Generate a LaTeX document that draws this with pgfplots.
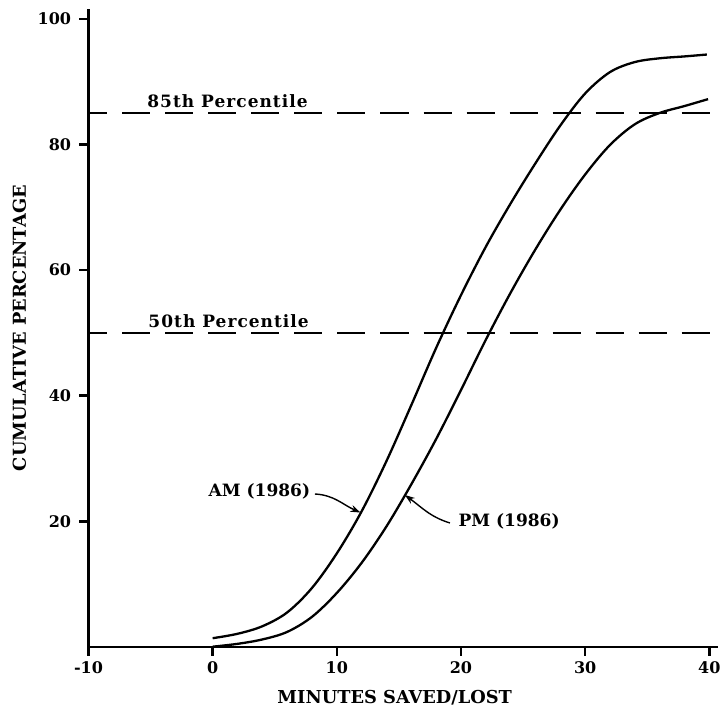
\documentclass[border=0pt]{standalone}
\usepackage{fontspec}
\setmainfont{DejaVu Serif}
\newfontfamily\spacedfont{DejaVu Serif}[LetterSpace=6]
\usepackage{pgfplots}
\pgfplotsset{compat=1.18}
\usetikzlibrary{arrows.meta}
\begin{document}
\begin{tikzpicture}
\useasboundingbox (-44.25pt,-35pt) rectangle (317.75pt,323.5pt);
\begin{axis}[
  at={(0pt,0pt)}, anchor=south west,
  scale only axis, width=314.75pt, height=318.85pt,
  xmin=-10, xmax=40.7, ymin=0, ymax=101.5,
  axis x line=bottom, axis y line=left,
  axis line style={-, line width=1.2pt},
  x axis line style={-}, y axis line style={-},
  tick align=outside, major tick length=4.5pt,
  tick style={line width=1.2pt, black},
  xtick={-10,0,10,20,30,40}, xticklabels={-10,0,10,20,30,40},
  ytick={20,40,60,80,100}, yticklabels={20,40,60,80,100},
  tick label style={font=\bfseries\fontsize{8}{9}\selectfont},
  xticklabel style={anchor=north, inner sep=0pt, yshift=-2.75pt},
  yticklabel style={anchor=east, inner sep=0pt, xshift=-4pt},
  xlabel={MINUTES SAVED/LOST}, ylabel={CUMULATIVE PERCENTAGE},
  label style={font=\bfseries\fontsize{8.9}{10}\selectfont},
  xlabel style={at={(axis description cs:0.4865,-0.0799)}, anchor=center},
  ylabel style={at={(axis description cs:-0.1097,0.5)}, anchor=center},
  clip=false,
]
% 85th and 50th percentile lines
\addplot[black, line width=1pt, dash pattern=on 14pt off 7.5pt, dash phase=4.5pt] coordinates {(-10,85) (40.5,85)};
\addplot[black, line width=1pt, dash pattern=on 14pt off 7.5pt, dash phase=4.5pt] coordinates {(-10,50) (40.5,50)};
% AM (1986)
\addplot[black, line width=1.15pt, smooth, tension=0.55] coordinates {
(0,1.4) (2,2.1) (4,3.3) (6,5.5) (8,9.4) (10,14.9) (12,21.6) (14,29.6) (16,38.5)
(18,47.6) (20,56.0) (22,63.7) (24,70.6) (26,77.0) (28,83.0) (30,88.1) (32,91.5)
(34,93.1) (36,93.7) (38,94.0) (39.8,94.3)};
% PM (1986)
\addplot[black, line width=1.15pt, smooth, tension=0.55] coordinates {
(0,0.05) (2,0.5) (4,1.2) (6,2.4) (8,4.8) (10,8.6) (12,13.4) (14,19.2) (16,25.9)
(18,33.1) (20,40.9) (22,48.9) (24,56.4) (26,63.3) (28,69.6) (30,75.2) (32,79.9)
(34,83.2) (36,85.0) (38,86.1) (39.9,87.2)};
\node[anchor=base west, inner sep=0pt, yshift=2.5pt, font=\spacedfont\bfseries\fontsize{8.5}{10}\selectfont] at (axis cs:-5.29,85) {85th Percentile};
\node[anchor=base west, inner sep=0pt, yshift=2.5pt, font=\spacedfont\bfseries\fontsize{8.5}{10}\selectfont] at (axis cs:-5.2,50) {50th Percentile};
\node[anchor=base west, inner sep=0pt, font=\bfseries\fontsize{8.5}{10}\selectfont] at (axis cs:-0.35,23.9) {AM (1986)};
\node[anchor=base west, inner sep=0pt, font=\bfseries\fontsize{8.5}{10}\selectfont] at (axis cs:19.78,19.1) {PM (1986)};
\draw[line width=0.7pt, -{Stealth[length=5pt,width=3.5pt]}] (axis cs:8.24,24.35) to[out=-3,in=156] (axis cs:11.9,21.4);
\draw[line width=0.7pt, -{Stealth[length=5pt,width=3.5pt]}] (axis cs:19.11,19.74) to[out=163,in=-36] (axis cs:15.48,24.19);
\end{axis}
\end{tikzpicture}
\end{document}
